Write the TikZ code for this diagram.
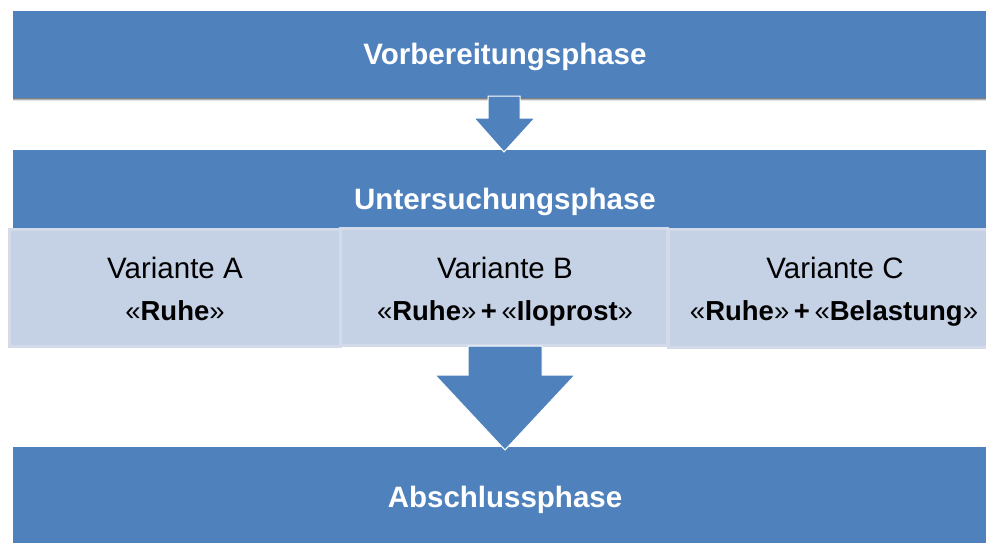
\documentclass[tikz,border=0pt]{standalone}
\usepackage{fontspec}
\setmainfont{Liberation Sans}
\definecolor{barblue}{HTML}{4F81BD}
\definecolor{boxfill}{HTML}{C5D1E5}
\definecolor{boxedge}{HTML}{D3DBEA}
\definecolor{shade}{HTML}{D4DCEB}
\tikzset{
  bar/.style={fill=barblue, draw=none, inner sep=0pt},
  bartext/.style={text=white, font=\fontsize{29.5}{35}\selectfont\bfseries, anchor=base, inner sep=0pt},
  varbox/.style={fill=boxfill, draw=boxedge, line width=3pt, inner sep=0pt},
  vartext/.style={text=black, font=\fontsize{29.5}{35}\selectfont, anchor=base, inner sep=0pt},
  vartextb/.style={text=black, font=\fontsize{27.5}{33}\selectfont, anchor=base, inner sep=0pt},
  bigarrow/.style={fill=barblue, draw=white, line width=1pt, line join=miter},
}
\begin{document}
\begin{tikzpicture}[x=1pt,y=-1pt]
\useasboundingbox (0,0) rectangle (986,542);
\clip (0,0) rectangle (986,542);
% bars
\node[bar, minimum width=984pt, minimum height=87pt] (prep) at (505,54.5) {};
\fill[shade] (13,98) rectangle (997,100.5);
\node[bar, minimum width=984pt, minimum height=100pt] (exam) at (505,200) {};
\node[bar, minimum width=984pt, minimum height=101pt] (final) at (505,497.5) {};
% variant boxes
\node[varbox, minimum width=331pt, minimum height=117pt] (va) at (175,288) {};
\node[varbox, minimum width=327pt, minimum height=117pt] (vb) at (504,287) {};
\node[varbox, minimum width=333pt, minimum height=118pt] (vc) at (835,288) {};
% bar texts
\node[bartext] (tprep) at (505,64) {Vorbereitungsphase};
\node[bartext] (texam) at (505,209) {Untersuchungsphase};
\node[bartext] (tfinal) at (505,507) {Abschlussphase};
% variant texts
\node[vartext] (ta1) at (175,278) {Variante A};
\node[vartextb] (ta2) at (175,320) {«\textbf{Ruhe}»};
\node[vartext] (tb1) at (505,278) {Variante B};
\node[vartextb] (tb2) at (505,320) {«\textbf{Ruhe}»\,\textbf{+}\,«\textbf{Iloprost}»};
\node[vartext] (tc1) at (835,278) {Variante C};
\node[vartextb] (tc2) at (834,320) {«\textbf{Ruhe}»\,\textbf{+}\,«\textbf{Belastung}»};
% arrows
\coordinate (a1tip) at (504,152);
\draw[bigarrow] (488,96) -- (520,96) -- (520,118) -- (535,118) -- (a1tip) -- (474,118) -- (488,118) -- cycle;
\coordinate (a2tip) at (505,450);
\draw[bigarrow] (468,346) -- (542,346) -- (542,375) -- (575,375) -- (a2tip) -- (435,375) -- (468,375) -- cycle;
\end{tikzpicture}
\end{document}
